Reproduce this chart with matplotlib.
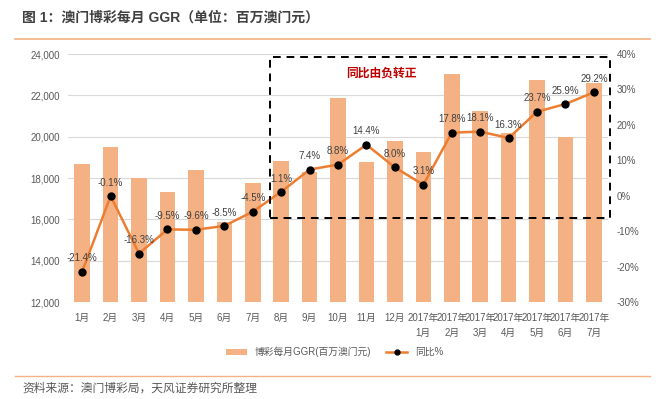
import numpy as np
import matplotlib.pyplot as plt
from matplotlib.lines import Line2D
from matplotlib.patches import Rectangle
from matplotlib.ticker import FuncFormatter

plt.rcParams["font.family"] = ["Liberation Sans", "Noto Sans CJK SC", "DejaVu Sans"]
plt.rcParams["axes.unicode_minus"] = False

months = ["1月", "2月", "3月", "4月", "5月", "6月", "7月", "8月", "9月", "10月",
          "11月", "12月", "2017年\n1月", "2017年\n2月", "2017年\n3月", "2017年\n4月",
          "2017年\n5月", "2017年\n6月", "2017年\n7月"]
ggr = [18680, 19520, 17980, 17340, 18390, 15880, 17770, 18840, 18300, 21850,
       18790, 19800, 19260, 23010, 21230, 20170, 22740, 19990, 22580]
yoy = [-21.4, -0.1, -16.3, -9.5, -9.6, -8.5, -4.5, 1.1, 7.4, 8.8,
       14.4, 8.0, 3.1, 17.8, 18.1, 16.3, 23.7, 25.9, 29.2]

bar_color = "#F4B183"
line_color = "#ED7D31"
text_gray = "#595959"

fig = plt.figure(figsize=(6.69, 3.99), dpi=100)
ax = fig.add_axes([0.1016, 0.243, 0.8074, 0.6216])
x = np.arange(len(months))

ax.bar(x, ggr, width=0.55, color=bar_color, zorder=2, label="博彩每月GGR(百万澳门元)")
ax.set_ylim(12000, 24000)
ax.set_yticks(np.arange(12000, 24001, 2000))
ax.yaxis.set_major_formatter(FuncFormatter(lambda v, p: f"{int(v):,}"))
ax.set_xlim(-0.5, len(months) - 0.5)
ax.set_xticks(x)
ax.set_xticklabels(months, linespacing=1.6)
ax.grid(axis="y", color="#D9D9D9", linewidth=0.8, zorder=0)
for s in ax.spines.values():
    s.set_visible(False)
ax.tick_params(length=0, labelsize=7, colors=text_gray, pad=6)
ax.tick_params(axis="x", pad=8)

ax2 = ax.twinx()
ax2.plot(x, yoy, color=line_color, linewidth=1.8, marker="o", markersize=5,
         markerfacecolor="black", markeredgecolor="black", zorder=3, label="同比%")
ax2.set_ylim(-30, 40)
ax2.set_yticks(np.arange(-30, 41, 10))
ax2.yaxis.set_major_formatter(FuncFormatter(lambda v, p: f"{int(v)}%"))
for s in ax2.spines.values():
    s.set_visible(False)
ax2.tick_params(length=0, labelsize=7, colors=text_gray, pad=6)

for xi, v in zip(x, yoy):
    ax2.annotate(f"{v:.1f}%", (xi, v), xytext=(0, 6), textcoords="offset points",
                 ha="center", va="bottom", fontsize=7, color="#404040")

# dashed box marking the turn to positive growth
box = Rectangle((6.6, -6.3), 11.95, 45.6, fill=False, edgecolor="black",
                linestyle=(0, (4, 3)), linewidth=1.4, clip_on=False, zorder=4)
ax2.add_patch(box)
ax2.text(9.3, 34.6, "同比由负转正", color="#C00000", fontsize=8.5,
         fontweight="bold", ha="left", va="center")

h1, l1 = ax.get_legend_handles_labels()
h2, l2 = ax2.get_legend_handles_labels()
fig.legend(h1 + h2, l1 + l2, loc="center", bbox_to_anchor=(0.5, 1 - 352 / 399),
           ncol=2, frameon=False, fontsize=7, labelcolor=text_gray,
           handlelength=2.2, handleheight=0.5, columnspacing=1.5, markerscale=0.7)

fig.text(22 / 669, 1 - 18 / 399, "图 1：澳门博彩每月 GGR（单位：百万澳门元）",
         fontsize=10, fontweight="bold", color="#404040", va="center", ha="left")
fig.add_artist(Line2D([15 / 669, 650 / 669], [1 - 39 / 399] * 2,
                      color="#F4B183", linewidth=1.2))
fig.add_artist(Line2D([15 / 669, 650 / 669], [1 - 376 / 399] * 2,
                      color="#F4B183", linewidth=1.0))
fig.text(22 / 669, 1 - 389 / 399, "资料来源：澳门博彩局，天风证券研究所整理",
         fontsize=8.5, color=text_gray, va="center", ha="left")

fig.savefig("out.png", dpi=100)
